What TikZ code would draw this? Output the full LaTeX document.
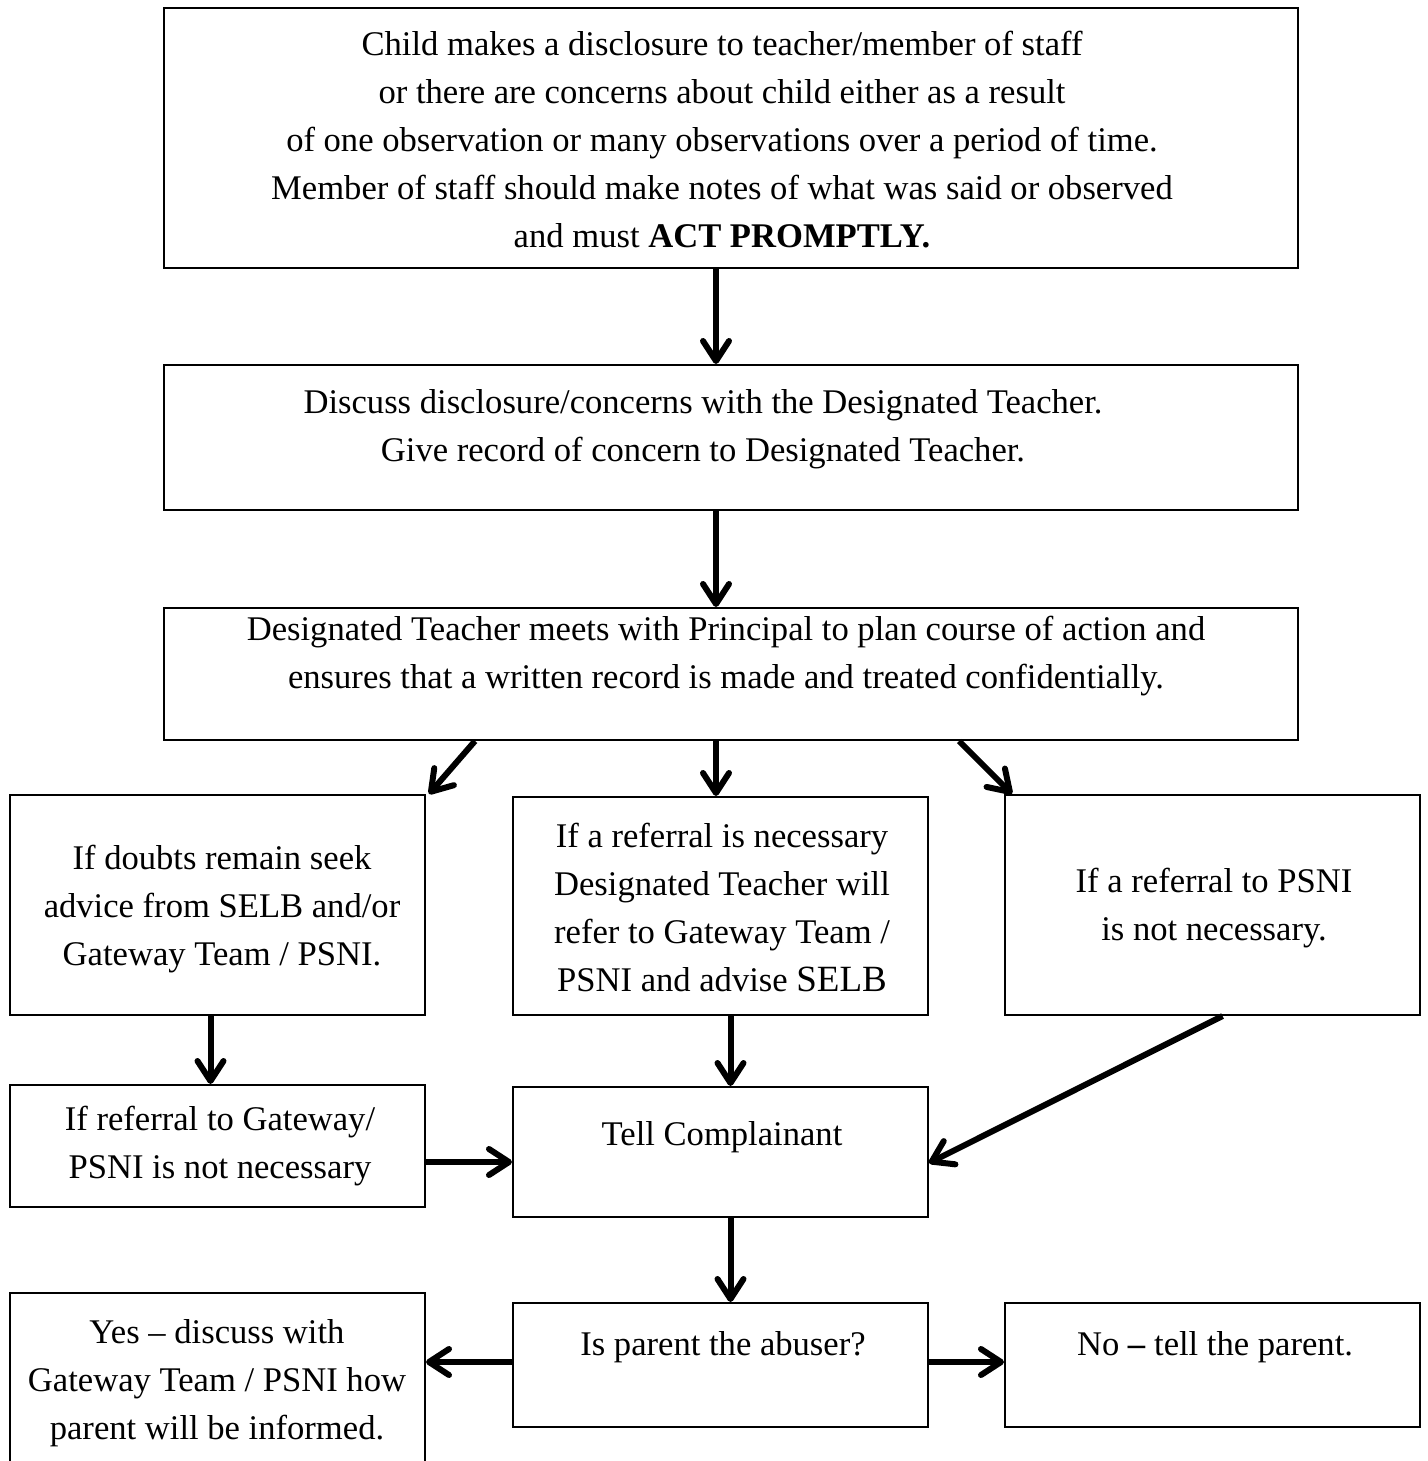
\documentclass[tikz,border=0pt]{standalone}
\usepackage{fontspec}
\setmainfont{Liberation Serif}
\usetikzlibrary{arrows.meta,calc}
\tikzset{
  box/.style={draw, line width=1pt, inner sep=0pt, fill=none},
  txt/.style={inner sep=0pt, align=center, font=\fontsize{17.3}{24}\selectfont},
  arr/.style={line width=3pt, -{Straight Barb[length=10pt,width=13pt,line cap=round,line join=round]}}
}
\begin{document}
\begin{tikzpicture}[x=0.5pt,y=-0.5pt]
\clip (0,0) rectangle (1428,1461);
\fill[white] (0,0) rectangle (1428,1461);
% boxes
\node[box, minimum width=567pt, minimum height=130pt] (b1) at (731,138) {};
\node[box, minimum width=567pt, minimum height=72.5pt] (b2) at (731,437.5) {};
\node[box, minimum width=567pt, minimum height=66pt] (b3) at (731,674) {};
\node[box, minimum width=207.5pt, minimum height=110pt] (b4) at (217.5,905) {};
\node[box, minimum width=207.5pt, minimum height=109pt] (b5) at (720.5,906) {};
\node[box, minimum width=207.5pt, minimum height=110pt] (b6) at (1212.5,905) {};
\node[box, minimum width=207.5pt, minimum height=61pt] (b7) at (217.5,1146) {};
\node[box, minimum width=207.5pt, minimum height=65pt] (b8) at (720.5,1152) {};
\node[box, minimum width=207.5pt, minimum height=100pt] (b9) at (217.5,1393) {};
\node[box, minimum width=207.5pt, minimum height=62pt] (b10) at (720.5,1365) {};
\node[box, minimum width=207.5pt, minimum height=62pt] (b11) at (1212.5,1365) {};
% texts
\node[txt] (t1) at (722,140) {Child makes a disclosure to teacher/member of staff\\
or there are concerns about child either as a result\\
of one observation or many observations over a period of time.\\
Member of staff should make notes of what was said or observed\\
and must \textbf{ACT PROMPTLY.}};
\node[txt] (t2) at (703,429) {Discuss disclosure/concerns with the Designated Teacher.\\
Give record of concern to Designated Teacher.};
\node[txt] (t3) at (726,656) {Designated Teacher meets with Principal to plan course of action and\\
ensures that a written record is made and treated confidentially.};
\node[txt] (t4) at (222,909) {If doubts remain seek\\advice from SELB and/or\\Gateway Team / PSNI.};
\node[txt] (t5) at (722,907) {If a referral is necessary\\Designated Teacher will\\refer to Gateway Team /\\PSNI and advise {\fontsize{18.5}{24}\selectfont SELB}};
\node[txt] (t6) at (1214,908) {If a referral to PSNI\\is not necessary.};
\node[txt] (t7) at (220,1146) {If referral to Gateway/\\PSNI is not necessary};
\node[txt] (t8) at (722,1137) {Tell Complainant};
\node[txt] (t9) at (217,1383) {Yes -- discuss with\\Gateway Team / PSNI how\\parent will be informed.};
\node[txt] (t10) at (723,1347) {Is parent the abuser?};
\node[txt] (t11) at (1215,1347) {No \textbf{--} tell the parent.};
% connectors
\draw[arr] ([xshift=-7.5pt]b1.south) -- ([xshift=-7.5pt]b2.north);
\draw[arr] ([xshift=-7.5pt]b2.south) -- ([xshift=-7.5pt]b3.north);
\draw[arr] ([xshift=156pt]b3.south west) -- ([xshift=1.5pt]b4.north east);
\draw[arr] ([xshift=-2.25pt]b5.north |- b3.south) -- ([xshift=-2.25pt]b5.north);
\draw[arr] ([xshift=-170pt]b3.south east) -- ([xshift=4pt]b6.north west);
\draw[arr] ([xshift=-3.5pt]b4.south) -- ([xshift=-3.5pt]b7.north);
\draw[arr] ([xshift=5pt]b5.south) -- ([xshift=5pt]b8.north);
\draw[arr] ([xshift=5pt]b6.south) -- ([yshift=-5.5pt]b8.east);
\draw[arr] ([yshift=-8pt]b7.east) -- ([yshift=-8pt]b7.east -| b8.west);
\draw[arr] ([xshift=5pt]b8.south) -- ([xshift=5pt]b10.north);
\draw[arr] ([yshift=1.5pt]b10.west) -- ([yshift=1.5pt]b10.west -| b9.east);
\draw[arr] ([yshift=1.5pt]b10.east) -- ([yshift=1.5pt]b10.east -| b11.west);
\end{tikzpicture}
\end{document}
